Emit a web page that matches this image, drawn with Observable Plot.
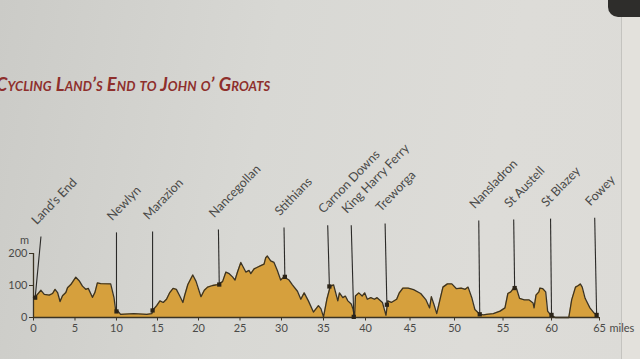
<!DOCTYPE html>
<html>
<head>
<meta charset="utf-8">
<script src="https://cdn.jsdelivr.net/npm/d3@7"></script>
<script src="https://cdn.jsdelivr.net/npm/@observablehq/plot@0.6"></script>
<style>
  html, body { margin: 0; padding: 0; }
  body { width: 640px; height: 359px; overflow: hidden; position: relative;
         background: linear-gradient(100deg, #cbcbc7 0%, #d8d8d4 40%, #dddcd8 75%, #dcdbd7 100%); }
  #title { position: absolute; left: -4px; top: 73px; font-family: "Lato", sans-serif; font-style: italic;
           font-weight: 700; font-variant: small-caps; font-size: 18.3px; color: #8e2f2c; letter-spacing: 0.1px; white-space: nowrap; }
  #chart { position: absolute; left: 0; top: 0; }
  #corner { position: absolute; right: 0; top: 0; width: 32px; height: 17px; background: #2e2d2b; border-bottom-left-radius: 10px; }
  #page2 { position: absolute; left: 621px; top: 17px; width: 19px; height: 342px; background: #e3e1dc; border-left: 1px solid #c4c3bf; }
</style>
</head>
<body>
<div id="corner"></div>
<div id="page2"></div>
<div id="title">Cycling Land’s End to John o’ Groats</div>
<div id="chart"></div>
<script>
// Elevation profile (miles, metres)
const miles = [
  0, 0.3, 0.9, 1.3, 1.9, 2.3, 2.6, 2.9, 3.2, 3.5,
  3.9, 4.1, 4.5, 5.1, 5.5, 5.9, 6.3, 6.6, 7.1, 7.4,
  7.7, 8.1, 9.3, 9.7, 9.9, 10.2, 10.5, 12.1, 13.7, 14.3,
  14.5, 14.9, 15.3, 15.7, 16.1, 16.5, 16.9, 17.3, 17.7, 18.1,
  18.3, 18.7, 19.3, 19.7, 20.3, 20.7, 21.1, 21.7, 22.3, 22.9,
  23.3, 23.7, 24.1, 24.4, 24.7, 25.1, 25.4, 25.7, 26.1, 26.3,
  26.7, 27.1, 27.5, 27.9, 28.1, 28.3, 28.7, 29.1, 29.5, 29.9,
  30.3, 30.6, 30.9, 31.3, 31.9, 32.3, 32.7, 33.2, 33.8, 34.4,
  34.7, 35.0, 35.4, 35.8, 36.2, 36.4, 36.7, 36.9, 37.3, 37.6,
  37.9, 38.3, 38.5, 38.7, 38.8, 39.2, 39.6, 39.9, 40.2, 40.6,
  41.0, 41.3, 41.9, 42.1, 42.3, 42.5, 42.9, 43.5, 43.8, 44.2,
  44.8, 45.4, 46.2, 46.8, 47.2, 47.4, 47.7, 48.0, 48.4, 48.7,
  49.2, 49.7, 50.2, 50.7, 51.1, 51.4, 51.8, 52.1, 52.6, 53.0,
  53.3, 54.0, 54.7, 55.2, 55.5, 55.8, 56.1, 56.4, 56.7, 57.2,
  57.7, 58.1, 58.2, 58.4, 58.7, 58.8, 59.1, 59.4, 59.6, 59.9,
  60.4, 61.5, 61.8, 62.1, 62.5, 62.8, 63.0, 63.2, 63.5, 64.0,
  64.4, 64.7
];
const elevation = [
  62, 67, 85, 72, 70, 75, 88, 78, 50, 68,
  78, 93, 103, 126, 115, 98, 88, 91, 63, 78,
  108, 106, 105, 62, 22, 19, 10, 12, 10, 12,
  25, 37, 52, 47, 57, 78, 91, 88, 68, 47,
  68, 103, 133, 113, 65, 85, 95, 100, 103, 112,
  142, 137, 127, 117, 142, 172, 157, 142, 147, 137,
  152, 157, 162, 167, 187, 192, 177, 172, 147, 117,
  127, 122, 117, 102, 82, 57, 77, 52, 17, 37,
  27, 2, 57, 97, 102, 82, 52, 77, 62, 67,
  52, 42, 27, 2, 67, 77, 67, 77, 57, 62,
  57, 62, 47, 27, 7, 52, 47, 57, 77, 92,
  92, 87, 75, 55, 30, 65, 40, 12, 60, 95,
  105, 105, 90, 92, 88, 95, 60, 25, 10, 8,
  10, 12, 20, 30, 75, 80, 92, 90, 60, 55,
  55, 45, 30, 70, 80, 92, 90, 80, 20, 8,
  0, 0, 0, 55, 95, 100, 105, 95, 60, 30,
  15, 8
];

// Places along the route
const towns = ["Land’s End", "Newlyn", "Marazion", "Nancegollan", "Stithians", "Carnon Downs",
  "King Harry Ferry", "Treworga", "Nansladron", "St Austell", "St Blazey", "Fowey"];
const townMiles    = [0.2, 10.0, 14.4, 22.5, 30.4, 35.7, 38.6, 42.4, 52.6, 56.2, 60.0, 64.7];
const townTopMiles = [0.9, 10.0, 14.4, 22.4, 30.3, 35.5, 38.3, 42.2, 52.5, 56.1, 59.9, 64.5];
const townElev     = [62, 19, 22, 103, 127, 97, 2, 40, 10, 92, 8, 8];
const townTop      = [253, 266, 269, 275, 281, 288, 288, 294, 303, 306, 309, 312];

const xTicks = [0, 5, 10, 15, 20, 25, 30, 35, 40, 45, 50, 55, 60, 65];
const yTicks = [0, 100, 200];

// the printed page is photographed at an angle: mile spacing widens to the right
const warp = d3.scaleLinear([0, 10, 20, 30, 40, 50, 60, 65], [0, 9.53, 18.95, 28.48, 38.13, 48.35, 59.49, 65]);

const profile = miles.map((m, i) => ({mile: m, elev: elevation[i]}));
const places = towns.map((t, i) => ({name: t, mile: townMiles[i], top: townTopMiles[i], elev: townElev[i], h: townTop[i]}));

const ink = "#3b3323";
const textCol = "#4a4a48";

const chart = Plot.plot({
  width: 640,
  height: 359,
  marginLeft: 33,
  marginRight: 41,
  marginTop: 253,
  marginBottom: 42,
  style: {background: "transparent", fontFamily: "Lato, sans-serif", color: textCol, overflow: "visible"},
  x: {domain: [0, 65], axis: null},
  y: {domain: [0, 200]},
  marks: [
    Plot.areaY(profile, {x: d => warp(d.mile), y: "elev", fill: "#d6a03d"}),
    Plot.lineY(profile, {x: d => warp(d.mile), y: "elev", stroke: ink, strokeWidth: 1.3}),
    Plot.ruleY([0], {x1: 0, x2: 65, stroke: ink, strokeWidth: 1.6}),
    Plot.ruleX([0], {y1: 0, y2: 200, stroke: ink, strokeWidth: 1.3}),
    Plot.axisY({ticks: yTicks, tickSize: 4, tickPadding: 2, fontSize: 11, stroke: ink, fill: textCol, label: null}),
    Plot.text(["m"], {x: 0, y: 200, dx: -9, dy: -13, fontSize: 11, fill: textCol}),
    // x axis (ticks follow the warped mile positions)
    Plot.ruleX(xTicks, {x: warp, y1: 0, y2: -11, stroke: ink, strokeWidth: 1}),
    Plot.text(xTicks, {x: warp, y: 0, dy: 11, text: d => String(d), fontSize: 11, fill: textCol}),
    Plot.text(["miles"], {x: 65, y: 0, dx: 10, dy: 11, textAnchor: "start", fontSize: 11, fill: textCol}),
    Plot.link(places, {x1: d => warp(d.top), y1: "h", x2: d => warp(d.mile), y2: "elev", stroke: "#2b2a28", strokeWidth: 1.1}),
    Plot.dot(places, {x: d => warp(d.mile), y: "elev", symbol: "square", r: 2.4, fill: "#2b2418"}),
    Plot.text(places, {x: d => warp(d.top), y: "h", text: "name", rotate: -46, textAnchor: "start", dx: -7, dy: -14,
      fontSize: 12.5, fill: textCol})
  ]
});
document.getElementById("chart").append(chart);
</script>
</body>
</html>
